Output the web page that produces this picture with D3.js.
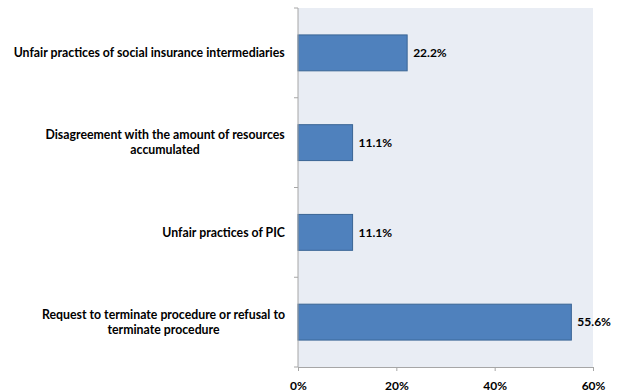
<!DOCTYPE html>
<html>
<head>
<meta charset="utf-8">
<script src="https://cdn.jsdelivr.net/npm/d3@7"></script>
<style>
  html, body { margin: 0; padding: 0; background: #fff; }
  svg { display: block; }
  text { font-family: Lato, "Open Sans", "Liberation Sans", sans-serif; font-weight: bold; fill: #000; }
</style>
</head>
<body>
<svg id="chart" width="623" height="392"></svg>
<script>
// Complaint categories (top to bottom) and their shares in percent
const categories = [
  "Unfair practices of social insurance intermediaries",
  "Disagreement with the amount of resources|accumulated",
  "Unfair practices of PIC",
  "Request to terminate procedure or refusal to|terminate procedure"
];
const shares = [22.2, 11.1, 11.1, 55.6];
const xTicks = [0, 20, 40, 60];

const svg = d3.select("#chart");
const margin = { top: 8, right: 30, bottom: 25, left: 298 };
const W = 623, H = 392;
const plotW = W - margin.left - margin.right;
const plotH = H - margin.top - margin.bottom;

const g = svg.append("g").attr("transform", `translate(${margin.left},${margin.top})`);

const x = d3.scaleLinear().domain([0, 60]).range([0, plotW]);
const y = d3.scaleBand().domain(categories).range([0, plotH]).paddingInner(0.6).paddingOuter(0.3);
const yBands = d3.scaleBand().domain(categories).range([0, plotH]);

// plot area background
g.append("rect").attr("x", 0).attr("y", 0).attr("width", plotW).attr("height", plotH)
  .attr("fill", "#E9EDF4");

// bars
g.selectAll("rect.bar").data(categories).enter().append("rect")
  .attr("class", "bar")
  .attr("x", x(0))
  .attr("y", d => y(d))
  .attr("width", (d, i) => x(shares[i]) - x(0))
  .attr("height", y.bandwidth())
  .attr("fill", "#4F81BD")
  .attr("stroke", "#3A6595")
  .attr("stroke-width", 1);

// value labels
g.selectAll("text.val").data(categories).enter().append("text")
  .attr("class", "val")
  .attr("x", (d, i) => x(shares[i]) + 6)
  .attr("y", d => y(d) + y.bandwidth() / 2)
  .attr("dy", "0.35em")
  .attr("font-size", 12)
  .text((d, i) => shares[i].toFixed(1) + "%");

// left axis: line plus outward ticks at band boundaries
const axisColor = "#A6A6A6";
g.append("line").attr("x1", 0).attr("x2", 0).attr("y1", 0).attr("y2", plotH)
  .attr("stroke", axisColor).attr("stroke-width", 1);
const boundaries = categories.map(d => yBands(d)).concat([plotH]);
g.selectAll("line.ytick").data(boundaries).enter().append("line")
  .attr("class", "ytick")
  .attr("x1", -4).attr("x2", 0)
  .attr("y1", d => d).attr("y2", d => d)
  .attr("stroke", axisColor);

// category labels, centred lines in a block right-aligned near the axis
const labelRight = -13;
categories.forEach(cat => {
  const lines = cat.split("|");
  const cy = yBands(cat) + yBands.bandwidth() / 2;
  const lh = 15;
  const t = g.append("text").attr("font-size", 12.3).attr("text-anchor", "middle");
  lines.forEach((ln, k) => {
    t.append("tspan").attr("x", 0).attr("y", cy + (k - (lines.length - 1) / 2) * lh).attr("dy", "0.35em").text(ln);
  });
  const bb = t.node().getBBox();
  t.attr("transform", `translate(${labelRight - bb.width / 2},0)`);
});

// bottom axis
const xAxis = d3.axisBottom(x).tickValues(xTicks).tickFormat(d => d + "%").tickSize(4).tickSizeOuter(0);
const ax = g.append("g").attr("transform", `translate(0,${plotH})`).call(xAxis);
ax.select(".domain").attr("stroke", axisColor);
ax.selectAll(".tick line").attr("stroke", axisColor);
ax.selectAll(".tick text").attr("font-size", 12).attr("dy", "1.3em")
  .style("font-family", "Lato, 'Open Sans', sans-serif").style("font-weight", "bold").attr("fill", "#000");
</script>
</body>
</html>
